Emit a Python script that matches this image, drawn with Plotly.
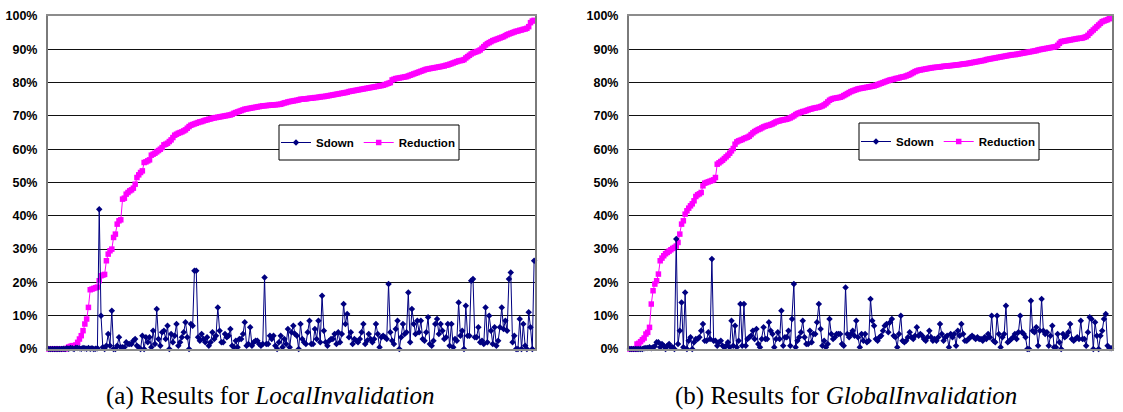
import plotly.graph_objects as go

# ---------------- data (values in percent) ----------------
local_sdown = [
    0, 0, 0, 0, 0, 0, 0, 0, 0.1, 0,
    0.2, 0.1, 0.3, 0.2, 0, 0.4, 0.3, 0.2, 0.1, 0.3,
    0.2, 0.1, 0.3, 0.1, 0.2, 0, 0.1, 0.2, 42, 10,
    0.5, 0, 1, 4.5, 1, 11.5, 0, 0, 1, 3.5,
    0.5, 0.5, 0.5, 2, 1.5, 1.5, 1.5, 2.5, 3, 1,
    0.5, 0, 4, 0, 3.5, 2, 3.5, 0.5, 5.5, 1.5,
    12, 3, 1, 5, 5.5, 3, 7, 0, 4.5, 2,
    4, 7.5, 1, 2, 3.5, 5, 8, 3.5, 0, 7.5,
    7, 23.5, 23.5, 3.5, 2.5, 4.5, 3, 2, 3.5, 1,
    2, 5, 3, 4, 12.5, 5.5, 2, 2, 4.5, 3.5,
    4, 6, 1, 0.5, 2.5, 0.5, 3, 3, 4.5, 8,
    1, 1.5, 6.5, 1, 2, 2.5, 2.5, 1.5, 1, 1.5,
    21.5, 1.5, 1.5, 4, 3, 4, 1, 0, 2, 4,
    0.5, 3, 1.5, 6, 0.5, 5, 7, 4.5, 4, 0,
    7.5, 3, 2, 1.5, 5, 8.5, 1.5, 1.5, 6, 3,
    8.5, 2, 16, 5.5, 2, 1, 2.5, 3, 3, 4.5,
    1.5, 5, 2, 4.5, 13.5, 7.5, 10.5, 3.5, 5, 1.5,
    3, 2.5, 2, 3, 5, 7.5, 1.5, 2.5, 4.5, 3,
    2, 3, 7.5, 4.5, 0.5, 3.5, 4, 3.5, 3, 19.5,
    5, 2.5, 1.5, 6, 8.5, 0, 3.5, 7.5, 4.5, 5,
    17, 2, 12, 7.5, 4.5, 8.5, 5, 8.5, 3, 2.5,
    5, 9.5, 1.5, 1, 2.5, 7.5, 9, 4.5, 7.5, 5.5,
    3, 3.5, 7.5, 1, 7.5, 0.5, 3, 2.5, 14, 4,
    5.5, 0, 13, 4, 4, 20.5, 21, 3.5, 3.5, 6.5,
    2, 2.5, 1.5, 12.5, 2, 10, 5.5, 1.5, 6.5, 1,
    2.5, 6.5, 12.5, 6, 8.5, 5.5, 21, 23, 2, 4,
    0, 0, 9, 0, 7.5, 1, 0, 11, 6.5, 0,
    26.5,
]

local_reduction = [
    0, 0, 0, 0, 0, 0, 0, 0, 0, 0,
    0.2, 0.6, 0.8, 1, 1, 1.2, 2, 3, 4, 5.5,
    7.5, 9, 12.5, 17.8, 18, 18.2, 18.4, 18.6, 20.5, 22,
    22.2, 22.4, 26.5, 28.5, 29.5, 30, 33.5, 34.5, 37.5, 38.5,
    38.8, 45, 45.3, 46.5, 47, 47.5, 47.8, 48.3, 49.5, 51.5,
    52.3, 53, 53.5, 56, 56.2, 56.5, 56.8, 58.2, 58.5, 58.8,
    59.2, 59.6, 60, 60.5, 61.3, 61.5, 61.8, 62.3, 62.8, 63.5,
    64.2, 64.5, 64.8, 65, 65.2, 65.5, 65.8, 66.3, 66.8, 67.2,
    67.4, 67.6, 67.8, 68, 68.2, 68.3, 68.5, 68.7, 68.8, 69,
    69.1, 69.3, 69.4, 69.5, 69.6, 69.7, 69.8, 69.9, 70, 70.1,
    70.2, 70.3, 70.5, 70.8, 71, 71.2, 71.4, 71.6, 71.8, 72,
    72.1, 72.2, 72.3, 72.4, 72.5, 72.6, 72.7, 72.8, 72.9, 73,
    73.05, 73.1, 73.15, 73.2, 73.25, 73.3, 73.35, 73.4, 73.45, 73.5,
    73.7, 73.9, 74, 74.2, 74.3, 74.4, 74.5, 74.6, 74.7, 74.8,
    75, 75, 75.1, 75.1, 75.2, 75.3, 75.3, 75.4, 75.5, 75.5,
    75.6, 75.7, 75.8, 75.8, 75.9, 76, 76.1, 76.2, 76.3, 76.4,
    76.5, 76.6, 76.7, 76.8, 76.9, 77, 77.1, 77.3, 77.4, 77.5,
    77.6, 77.7, 77.8, 77.9, 78, 78.1, 78.2, 78.3, 78.4, 78.5,
    78.6, 78.7, 78.8, 78.9, 79, 79.1, 79.2, 79.4, 79.6, 79.8,
    80, 80.8, 81, 81.2, 81.3, 81.4, 81.5, 81.6, 81.7, 81.8,
    82, 82.2, 82.4, 82.6, 82.8, 83, 83.2, 83.4, 83.6, 83.8,
    84, 84.1, 84.2, 84.3, 84.4, 84.5, 84.6, 84.7, 84.8, 84.9,
    85, 85.2, 85.3, 85.5, 85.7, 85.9, 86.1, 86.3, 86.5, 86.6,
    86.7, 86.9, 87.4, 87.8, 88.2, 88.6, 88.9, 89.1, 89.3, 89.5,
    89.8, 90.3, 90.8, 91.3, 91.7, 92, 92.3, 92.6, 92.8, 93,
    93.2, 93.4, 93.6, 93.8, 94.1, 94.4, 94.6, 94.8, 95, 95.2,
    95.4, 95.5, 95.7, 95.8, 96, 96.1, 96.3, 96.8, 98, 98.5,
    98.7,
]

global_sdown = [
    0, 0, 0, 0, 0, 0, 0, 0, 0.2, 0.3,
    0.3, 0.5, 0.2, 0.5, 0.8, 2, 2, 0.5, 1.5, 1,
    0, 1, 1.5, 0.5, 0.5, 0, 33, 1.5, 5.5, 14,
    0.5, 17, 0, 2.5, 3.5, 0, 2, 3, 3, 3.5,
    5.5, 7.5, 2.5, 2.5, 5, 3, 27, 2.5, 2.5, 1,
    2, 2.5, 1, 0.5, 1, 2, 0.5, 8.5, 1, 7,
    0.5, 2.5, 13.5, 1, 13.5, 1, 3, 3.5, 4, 5.5,
    3, 6, 1.5, 0.5, 3, 6.5, 3, 3, 8, 5.5,
    4.5, 0.5, 3, 5, 3, 11.5, 1, 3.5, 3.5, 5.5,
    1, 9, 19.5, 0.5, 2.5, 3.5, 5, 8.5, 3.5, 1.5,
    1.5, 5.5, 2, 4.5, 4.5, 8, 13.5, 6, 1, 2.5,
    0.5, 1.5, 9, 4.5, 3, 3.5, 4.5, 4.5, 4.5, 1.5,
    1, 18.5, 4.5, 3.5, 4.5, 5.5, 4, 8.5, 3.5, 0.5,
    4.5, 2.5, 4.5, 2, 2.5, 15, 8.5, 7, 3, 2.5,
    3.5, 4, 5.5, 7, 7.5, 5, 8, 9, 4, 3.5,
    0.5, 4.5, 10, 2.5, 2, 2.5, 3.5, 5, 3.5, 3,
    4, 6.5, 4, 4.5, 4, 3, 2.5, 3.5, 5.5, 3.5,
    2.5, 3, 2.5, 3.5, 7.5, 4.5, 2.5, 3.5, 4, 0.5,
    4.5, 3.5, 4.5, 1, 5.5, 4, 7.5, 4.5, 2.5, 2.5,
    3, 3.5, 4, 3.5, 3, 3.5, 3, 3, 2.5, 3.5,
    3, 4.5, 3.5, 10, 2.5, 2, 10, 4.5, 0.5, 3.5,
    4.5, 13, 2, 2.5, 3, 3.5, 4.5, 3, 5, 10,
    5, 4.5, 3.5, 0, 0, 14.5, 5.5, 5, 6.5, 1,
    5.5, 15, 5.5, 4.5, 5, 1, 4, 7, 0.5, 0.5,
    4.5, 2, 0, 4.5, 3.5, 4, 5, 7.5, 3, 2.5,
    3, 3.5, 3, 8.5, 3, 3, 1, 5, 9.5, 9,
    0, 8, 4, 0, 4, 5.5, 9, 10.5, 1, 0.3,
    0.2,
]

global_reduction = [
    0, 0, 0, 0, 1.5, 1.7, 2.2, 2.8, 3.3, 4.5,
    5, 6.5, 13.5, 17.5, 19.5, 20.5, 22.5, 26.5, 27.3, 28,
    28.6, 29, 29.4, 29.8, 30.2, 30.5, 30.9, 32, 34.5, 37.5,
    38.5, 40.5, 41.5, 42.3, 43, 43.6, 44.5, 45.8, 46.3, 46.6,
    47, 49, 49.8, 50, 50.2, 50.4, 50.6, 50.8, 51.5, 55.5,
    55.9, 56.3, 56.7, 57.2, 57.7, 58.2, 58.8, 59.5, 60.2, 61.5,
    62.2, 62.5, 62.7, 62.9, 63.2, 63.4, 63.6, 63.9, 64.4, 64.9,
    65.3, 65.6, 65.9, 66.1, 66.4, 66.7, 66.9, 67.1, 67.2, 67.4,
    67.6, 67.9, 68.2, 68.4, 68.5, 68.7, 68.8, 68.9, 69, 69.2,
    69.4, 69.7, 70, 70.4, 70.7, 70.9, 71.1, 71.3, 71.4, 71.6,
    71.8, 72, 72.1, 72.3, 72.4, 72.5, 72.6, 72.8, 73, 73.3,
    73.7, 74.2, 74.7, 75, 75.2, 75.3, 75.4, 75.5, 75.6, 75.8,
    76.1, 76.4, 76.7, 77, 77.3, 77.5, 77.7, 77.9, 78.1, 78.2,
    78.3, 78.4, 78.5, 78.6, 78.7, 78.8, 78.9, 79, 79.2, 79.4,
    79.6, 79.8, 80, 80.2, 80.4, 80.6, 80.8, 80.9, 81, 81.2,
    81.3, 81.4, 81.6, 81.7, 81.8, 82, 82.2, 82.4, 82.7, 83,
    83.3, 83.5, 83.7, 83.8, 83.9, 84, 84.1, 84.2, 84.3, 84.4,
    84.5, 84.55, 84.6, 84.65, 84.7, 84.8, 84.9, 84.93, 85, 85.05,
    85.1, 85.15, 85.2, 85.3, 85.35, 85.4, 85.5, 85.6, 85.65, 85.7,
    85.8, 85.9, 86, 86.1, 86.2, 86.3, 86.4, 86.5, 86.6, 86.7,
    86.9, 87, 87.1, 87.2, 87.3, 87.4, 87.5, 87.6, 87.7, 87.8,
    87.9, 88, 88.1, 88.2, 88.3, 88.4, 88.4, 88.5, 88.6, 88.7,
    88.8, 88.9, 89, 89.1, 89.2, 89.3, 89.4, 89.5, 89.6, 89.8,
    89.9, 90, 90.1, 90.2, 90.3, 90.4, 90.5, 90.6, 90.7, 90.8,
    91.2, 91.8, 92.3, 92.4, 92.5, 92.6, 92.7, 92.8, 92.9, 93,
    93.1, 93.2, 93.3, 93.3, 93.4, 93.6, 93.8, 94.2, 94.8, 95.3,
    95.8, 96.3, 96.8, 97.3, 97.8, 98.3, 98.5, 98.7, 98.9, 99.2,
    99.4,
]

y_ticks = [0, 10, 20, 30, 40, 50, 60, 70, 80, 90, 100]
y_tick_labels = ["0%", "10%", "20%", "30%", "40%", "50%", "60%", "70%", "80%", "90%", "100%"]
captions = ["(a) Results for <i>LocalInvalidation</i>", "(b) Results for <i>GlobalInvalidation</i>"]
series_names = ["Sdown", "Reduction"]

# ---------------- figure ----------------
W, H = 1123, 412
SDOWN_COLOR = "#000080"
RED_COLOR = "#FF00FF"

fig = go.Figure()


def add_panel(sdown, reduction, xa, ya, legend_name):
    x = list(range(len(sdown)))
    fig.add_trace(go.Scatter(
        x=x, y=reduction, name=series_names[1], mode="lines+markers",
        line=dict(color=RED_COLOR, width=1),
        marker=dict(symbol="square", size=5.5, color=RED_COLOR),
        xaxis=xa, yaxis=ya, legend=legend_name, legendrank=2, cliponaxis=False,
    ))
    fig.add_trace(go.Scatter(
        x=x, y=sdown, name=series_names[0], mode="lines+markers",
        line=dict(color=SDOWN_COLOR, width=1),
        marker=dict(symbol="diamond", size=5, color=SDOWN_COLOR),
        xaxis=xa, yaxis=ya, legend=legend_name, legendrank=1, cliponaxis=False,
    ))


add_panel(local_sdown, local_reduction, "x", "y", "legend")
add_panel(global_sdown, global_reduction, "x2", "y2", "legend2")

y_dom = [1 - 349 / H, 1 - 16 / H]
x1_dom = [48 / W, 535 / W]
x2_dom = [629 / W, 1112 / W]

xaxis_common = dict(
    range=[-0.5, len(local_sdown) - 0.5], showgrid=False, zeroline=False,
    showticklabels=False, ticks="", showline=True, mirror=True,
    linecolor="#8c8c8c", linewidth=2, automargin=False,
)
yaxis_common = dict(
    range=[0, 100], tickvals=y_ticks, ticktext=y_tick_labels,
    showgrid=True, gridcolor="#111111", gridwidth=1, zeroline=False,
    showline=True, mirror=True, linecolor="#7a7a7a", linewidth=2,
    ticks="outside", ticklen=6, tickcolor="rgba(0,0,0,0)", automargin=False,
    tickfont=dict(family="Liberation Sans", size=12.5, color="#000", weight="bold"),
)

legend_common = dict(
    orientation="h", xanchor="left", yanchor="middle",
    bgcolor="rgba(0,0,0,0)", borderwidth=0,
    font=dict(family="Liberation Sans", size=11.5, color="#000", weight="bold"),
    itemwidth=30, tracegroupgap=0,
)

# legend frames (pixel boxes converted to paper fractions)
leg_boxes = [(279, 125, 459, 160), (859, 123, 1039, 160)]
shapes = []
for (x0, y0, x1, y1) in leg_boxes:
    shapes.append(dict(
        type="rect", xref="paper", yref="paper", layer="above",
        x0=x0 / W, x1=x1 / W, y0=1 - y1 / H, y1=1 - y0 / H,
        fillcolor="#ffffff", line=dict(color="#000000", width=1),
    ))

fig.update_layout(
    template="none",
    width=W, height=H, autosize=False,
    margin=dict(l=0, r=0, t=0, b=0, pad=0, autoexpand=False),
    paper_bgcolor="#ffffff", plot_bgcolor="#ffffff",
    xaxis=dict(domain=x1_dom, anchor="y", **xaxis_common),
    yaxis=dict(domain=y_dom, anchor="x", **yaxis_common),
    xaxis2=dict(domain=x2_dom, anchor="y2", **xaxis_common),
    yaxis2=dict(domain=y_dom, anchor="x2", **yaxis_common),
    legend=dict(x=276 / W, y=1 - 142.5 / H, **legend_common),
    legend2=dict(x=856 / W, y=1 - 141.5 / H, **legend_common),
    showlegend=True,
    shapes=shapes,
    annotations=[
        dict(text=captions[0], x=270 / W, y=1 - 396 / H, xref="paper", yref="paper",
             xanchor="center", yanchor="middle", showarrow=False,
             font=dict(family="Liberation Serif", size=25, color="#000")),
        dict(text=captions[1], x=846 / W, y=1 - 396 / H, xref="paper", yref="paper",
             xanchor="center", yanchor="middle", showarrow=False,
             font=dict(family="Liberation Serif", size=25, color="#000")),
    ],
)

fig.write_html("out.html", config={"displayModeBar": False},
               post_script="document.body.style.margin='0';")
